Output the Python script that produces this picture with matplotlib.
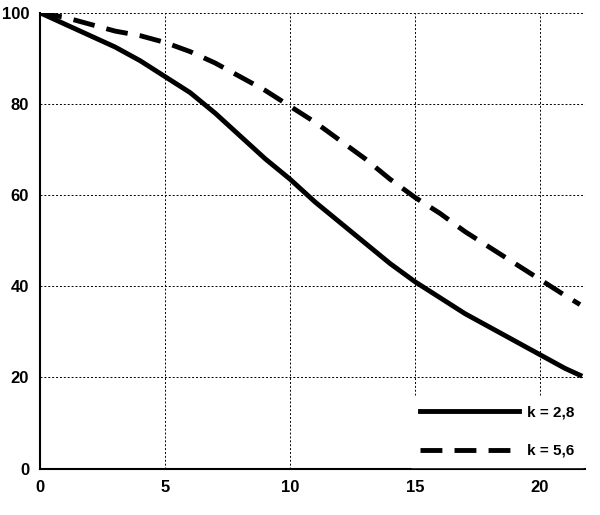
import matplotlib.pyplot as plt

# curve values
x_vals = [0, 1, 2, 3, 4, 5, 6, 7, 8, 9, 10, 11, 12, 13, 14, 15, 16, 17, 18, 19, 20, 21, 21.6]
k28 = [100, 97.5, 95, 92.5, 89.5, 86, 82.5, 78, 73, 68, 63.5, 58.5, 54, 49.5, 45, 41, 37.5, 34, 31, 28, 25, 22, 20.5]
k56 = [100, 99, 97.5, 96, 95, 93.5, 91.5, 89, 86, 83, 79.5, 76, 72, 68, 63.5, 59.5, 56, 52, 48.5, 45, 41.5, 38, 36]

plt.rcParams['font.family'] = ['Liberation Sans', 'DejaVu Sans']
plt.rcParams['font.weight'] = 'bold'

fig, ax = plt.subplots(figsize=(6.0, 5.15), dpi=100)
fig.subplots_adjust(left=0.067, right=0.975, top=0.975, bottom=0.09)

ax.plot(x_vals, k28, color='black', lw=3.5, label='k = 2,8')
ax.plot(x_vals, k56, color='black', lw=3.5, ls=(0, (4.5, 2.5)), label='k = 5,6')

ax.set_xlim(0, 21.8)
ax.set_ylim(0, 100)
ax.set_xticks([0, 5, 10, 15, 20])
ax.set_yticks([0, 20, 40, 60, 80, 100])
ax.grid(True, color='black', ls=(0, (2, 2)), lw=0.7)
ax.tick_params(labelsize=12, length=0, pad=8)
for s in ['top', 'right']:
    ax.spines[s].set_visible(False)
ax.spines['left'].set_linewidth(1.5)
ax.spines['bottom'].set_linewidth(1.5)

leg = ax.legend(loc='lower right', frameon=True, fancybox=False, edgecolor='white',
                framealpha=1, fontsize=11, handlelength=6.5, labelspacing=1.6,
                borderaxespad=0.1, borderpad=0.6, handletextpad=0.5)

fig.savefig('out.png')
